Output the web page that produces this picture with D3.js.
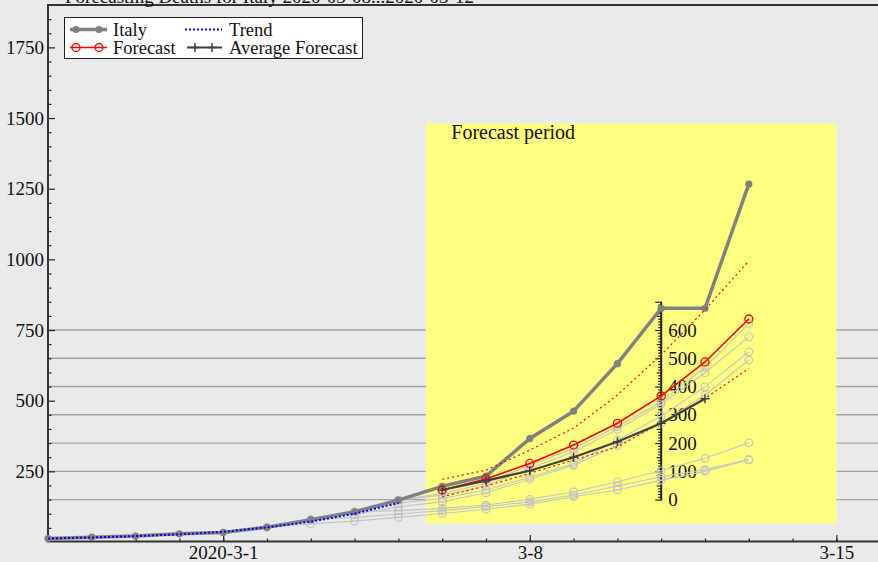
<!DOCTYPE html>
<html><head><meta charset="utf-8">
<script src="https://cdn.jsdelivr.net/npm/d3@7"></script>
<style>
html,body{margin:0;padding:0;background:#eaeaea;overflow:hidden;}
svg{display:block;}
svg text{font-family:"Liberation Serif","Times New Roman",serif;}
</style></head><body>
<svg id="chart" width="878" height="562"></svg>
<script>
// ---- data ----
const titleText = "Forecasting Deaths for Italy 2020-03-08...2020-03-12";
const periodLabel = "Forecast period";

const italyStart = "2020-02-26";
const italyDeaths = [12, 17, 21, 29, 34, 52, 79, 107, 148, 197, 233, 366, 463, 631, 827, 827, 1266];

const trendStart = "2020-02-26";
const trendValues = [12.5, 16, 21, 27, 36, 52, 72, 100, 138];

const forecastStart = "2020-03-06";
const forecastValues = [184, 223, 278, 343, 420, 517, 637, 789];
const forecastUpper = [222, 254, 325, 403, 520, 662, 822, 994];
const forecastLower = [160, 198, 243, 290, 337, 422, 508, 614];

const averageStart = "2020-03-06";
const averageForecast = [184, 217, 252, 300, 355, 420, 507];

// earlier forecast runs, each with its own first day
const pastForecastStarts = ["2020-03-05", "2020-03-05", "2020-03-04", "2020-03-04", "2020-03-04", "2020-03-03", "2020-03-02"];
const pastForecastValues = [
  [148, 172, 207, 272, 331, 408, 496, 618, 773],
  [148, 166, 199, 261, 319, 398, 488, 599, 726],
  [107, 137, 154, 184, 229, 278, 361, 446, 549, 673],
  [97, 125, 142, 174, 222, 272, 341, 420, 520, 644],
  [107, 111, 119, 131, 151, 178, 213, 252, 296, 351],
  [79, 87, 99, 111, 125, 142, 166, 198, 231, 256, 292],
  [52, 64, 74, 87, 101, 116, 134, 160, 184, 219, 250, 290]
];

const yMajorTicks = [250, 500, 750, 1000, 1250, 1500, 1750];
const xLabelTicks = ["2020-03-01", "2020-03-08", "2020-03-15"];
const xLabelText = ["2020-3-1", "3-8", "3-15"];
const innerTicks = [0, 100, 200, 300, 400, 500, 600];

const legendItems = ["Italy", "Forecast", "Trend", "Average Forecast"];

(function draw() {
  const parse = d3.timeParse("%Y-%m-%d");
  const toSeries = (start, values) => values.map((v, i) => ({date: d3.timeDay.offset(parse(start), i), value: v}));

  const svg = d3.select("#chart");
  const plotLeft = 48, plotTop = 5, plotBottom = 542, dayW = 43.8;

  const x = d3.scaleTime()
    .domain([parse("2020-02-26"), parse("2020-03-16")])
    .range([plotLeft, plotLeft + 19 * dayW]);
  const y = d3.scaleLinear().domain([0, 1900]).range([plotBottom, plotTop]);
  // secondary scale inside the forecast panel, offset from the main one
  const yInner = d3.scaleLinear().domain([0, 700]).range([y(150), y(850)]);

  const font = 19;
  const ink = "#222";

  // horizontal guide lines at the inner scale ticks
  svg.append("g").selectAll("line").data(innerTicks).join("line")
    .attr("x1", plotLeft).attr("x2", 878)
    .attr("y1", d => yInner(d)).attr("y2", d => yInner(d))
    .attr("stroke", "#a2a2a2").attr("stroke-width", 1.4);

  // forecast period panel
  const px0 = x(d3.timeHour.offset(parse("2020-03-05"), 15));
  const px1 = x(parse("2020-03-15"));
  svg.append("rect")
    .attr("x", px0).attr("y", 123.5)
    .attr("width", px1 - px0).attr("height", 400)
    .attr("fill", "#ffff80");
  svg.append("text").attr("x", px0 + 25.5).attr("y", 139)
    .attr("font-size", 20).attr("fill", "#111").text(periodLabel);

  const styleAxis = g => {
    g.attr("font-family", null).attr("font-size", null);
    g.select(".domain").remove();
    g.selectAll(".tick line").attr("stroke", ink).attr("stroke-width", 1.2);
    g.selectAll("text").attr("font-size", font).attr("fill", "#111");
  };

  // inner scale
  const ix = x(parse("2020-03-11"));
  const innerAxis = (vals, size, fmt, pad) => {
    svg.append("g").attr("transform", `translate(${ix},0)`)
      .call(d3.axisRight(yInner).tickValues(vals).tickSize(size).tickPadding(pad).tickFormat(fmt))
      .call(styleAxis);
  };
  innerAxis(d3.range(0, 701, 10).filter(v => v % 50), -3, "", 0);
  innerAxis(d3.range(50, 701, 100), -4.5, "", 0);
  innerAxis(innerTicks.concat([700]), -6, d => d === 700 ? "" : d3.format("d")(d), 7);
  svg.append("line")
    .attr("x1", ix).attr("x2", ix)
    .attr("y1", yInner(0) + 1).attr("y2", yInner(700))
    .attr("stroke", ink).attr("stroke-width", 2);

  // main axes
  svg.append("g").attr("transform", `translate(${plotLeft},0)`)
    .call(d3.axisLeft(y).tickValues(d3.range(50, 1900, 50).filter(v => v % 250)).tickSize(-3.5).tickFormat(""))
    .call(styleAxis);
  svg.append("g").attr("transform", `translate(${plotLeft},0)`)
    .call(d3.axisLeft(y).tickValues(yMajorTicks).tickSize(-7).tickPadding(4).tickFormat(d3.format("d")))
    .call(styleAxis);
  svg.append("g").attr("transform", `translate(0,${plotBottom})`)
    .call(d3.axisBottom(x).ticks(d3.timeDay.every(1)).tickSize(-3.5).tickFormat(""))
    .call(styleAxis);
  svg.append("g").attr("transform", `translate(0,${plotBottom})`)
    .call(d3.axisBottom(x).tickValues(xLabelTicks.map(parse)).tickSize(-7).tickPadding(3)
      .tickFormat((d, i) => xLabelText[i]))
    .call(styleAxis);

  // frame
  svg.append("path")
    .attr("d", `M878,${plotTop}H${plotLeft}V${plotBottom - 0.5}H878`)
    .attr("fill", "none").attr("stroke", "#333").attr("stroke-width", 2);

  // title
  svg.append("text").attr("x", 65).attr("y", 2.5).attr("font-size", font).attr("fill", "#111").text(titleText);

  // ---- series ----
  const line = d3.line().x(d => x(d.date)).y(d => y(d.value));

  const past = svg.append("g");
  pastForecastValues.forEach((vals, k) => {
    const s = toSeries(pastForecastStarts[k], vals);
    past.append("path").attr("d", line(s)).attr("fill", "none")
      .attr("stroke", "#c4c4c4").attr("stroke-width", 1.1);
    past.append("g").selectAll("circle").data(s).join("circle")
      .attr("cx", d => x(d.date)).attr("cy", d => y(d.value)).attr("r", 3.8)
      .attr("fill", "none").attr("stroke", "#c0c0c0").attr("stroke-width", 1.1);
  });

  const italy = toSeries(italyStart, italyDeaths);
  svg.append("path").attr("d", line(italy)).attr("fill", "none")
    .attr("stroke", "#808080").attr("stroke-width", 3.5).attr("stroke-linejoin", "round");
  svg.append("g").selectAll("circle").data(italy).join("circle")
    .attr("cx", d => x(d.date)).attr("cy", d => y(d.value)).attr("r", 3.6).attr("fill", "#808080");

  const trend = toSeries(trendStart, trendValues);
  svg.append("path").attr("d", line(trend)).attr("fill", "none")
    .attr("stroke", "#0000ff").attr("stroke-width", 2).attr("stroke-dasharray", "2,2");

  [forecastUpper, forecastLower].forEach(b => {
    svg.append("path").attr("d", line(toSeries(forecastStart, b))).attr("fill", "none")
      .attr("stroke", "#ff0000").attr("stroke-width", 1.2).attr("stroke-dasharray", "2,3");
  });

  const fc = toSeries(forecastStart, forecastValues);
  svg.append("path").attr("d", line(fc)).attr("fill", "none")
    .attr("stroke", "#ff0000").attr("stroke-width", 1.6);
  svg.append("g").selectAll("circle").data(fc).join("circle")
    .attr("cx", d => x(d.date)).attr("cy", d => y(d.value)).attr("r", 4)
    .attr("fill", "none").attr("stroke", "#ff0000").attr("stroke-width", 1.3);

  const avg = toSeries(averageStart, averageForecast);
  svg.append("path").attr("d", line(avg)).attr("fill", "none")
    .attr("stroke", "#404040").attr("stroke-width", 2.2);
  svg.append("g").selectAll("path").data(avg).join("path")
    .attr("d", d => `M${x(d.date) - 4.5},${y(d.value)}h9M${x(d.date)},${y(d.value) - 4.5}v9`)
    .attr("stroke", "#404040").attr("stroke-width", 1.5);

  // ---- legend ----
  const lg = svg.append("g");
  lg.append("rect").attr("x", 64.5).attr("y", 17.5).attr("width", 298).attr("height", 41)
    .attr("fill", "#fff").attr("stroke", "#222").attr("stroke-width", 1);
  const rowY = [29.5, 47.5];
  const colX = [70, 185];
  const textX = [113, 229];
  lg.append("line").attr("x1", colX[0]).attr("x2", colX[0] + 37).attr("y1", rowY[0]).attr("y2", rowY[0])
    .attr("stroke", "#808080").attr("stroke-width", 3.5);
  [colX[0] + 6, colX[0] + 29].forEach(cx => lg.append("circle").attr("cx", cx).attr("cy", rowY[0]).attr("r", 3.6).attr("fill", "#808080"));
  lg.append("line").attr("x1", colX[0]).attr("x2", colX[0] + 37).attr("y1", rowY[1]).attr("y2", rowY[1])
    .attr("stroke", "#ff0000").attr("stroke-width", 1.6);
  [colX[0] + 6, colX[0] + 29].forEach(cx => lg.append("circle").attr("cx", cx).attr("cy", rowY[1]).attr("r", 4)
    .attr("fill", "none").attr("stroke", "#ff0000").attr("stroke-width", 1.3));
  lg.append("line").attr("x1", colX[1]).attr("x2", colX[1] + 37).attr("y1", rowY[0]).attr("y2", rowY[0])
    .attr("stroke", "#0000ff").attr("stroke-width", 2).attr("stroke-dasharray", "2,2");
  lg.append("line").attr("x1", colX[1] + 2).attr("x2", colX[1] + 37).attr("y1", rowY[1]).attr("y2", rowY[1])
    .attr("stroke", "#404040").attr("stroke-width", 2.2);
  [colX[1] + 10, colX[1] + 27].forEach(cx => lg.append("path")
    .attr("d", `M${cx - 4.5},${rowY[1]}h9M${cx},${rowY[1] - 4.5}v9`).attr("stroke", "#404040").attr("stroke-width", 1.5));
  [[0, 0], [0, 1], [1, 0], [1, 1]].forEach(([c, r]) => {
    lg.append("text").attr("x", textX[c]).attr("y", rowY[r]).attr("dy", "0.34em")
      .attr("font-size", 18.5).attr("fill", "#111").text(legendItems[c * 2 + r]);
  });
})();
</script>
</body></html>
